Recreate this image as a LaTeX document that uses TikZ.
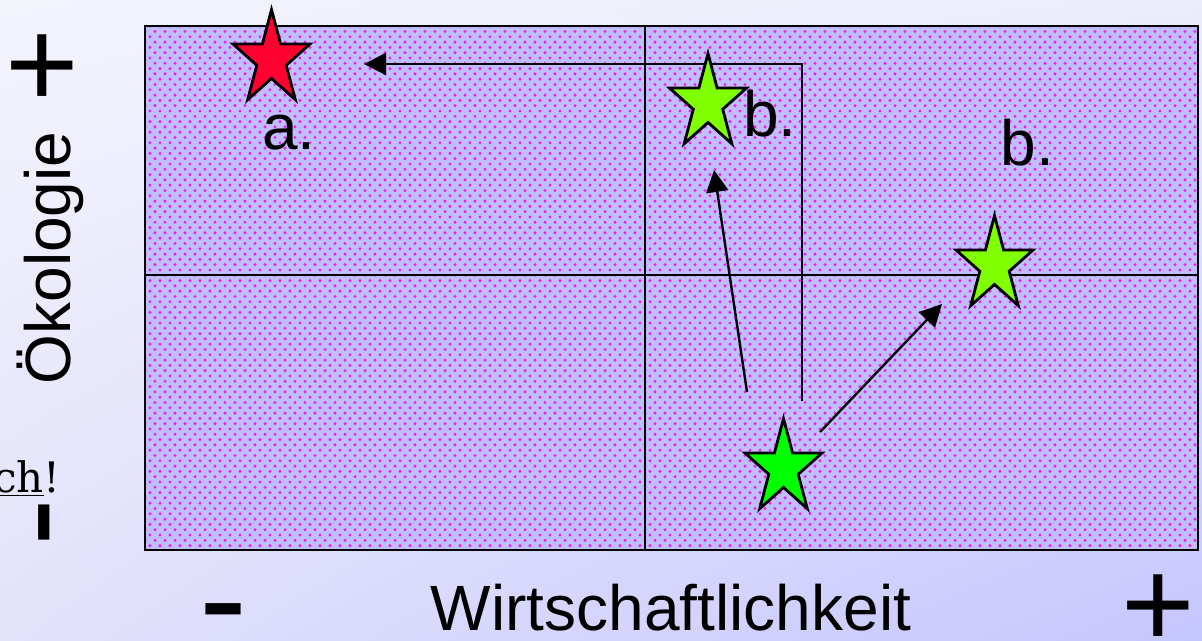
\documentclass[tikz,border=0pt]{standalone}
\usepackage{fontspec}
\setmainfont{Liberation Sans}
\newfontfamily\serifchfont{DejaVu Serif}
\usetikzlibrary{shapes.geometric,arrows.meta,patterns,shadings}

\pgfdeclarepatternformonly{mydots}{\pgfqpoint{-1.5pt}{-1.5pt}}{\pgfqpoint{4pt}{4pt}}{\pgfqpoint{5pt}{5.3pt}}{%
  \pgfpathcircle{\pgfqpoint{0pt}{0pt}}{0.85pt}%
  \pgfpathcircle{\pgfqpoint{2.5pt}{2.65pt}}{0.85pt}%
  \pgfusepath{fill}%
}

\definecolor{bgA}{HTML}{F4F4FD}
\definecolor{bgB}{HTML}{ECECFC}
\definecolor{bgC}{HTML}{E2E2FB}
\definecolor{bgD}{HTML}{C6C6FF}
\definecolor{fieldbg}{HTML}{BFBFFF}
\definecolor{dotcol}{HTML}{EE22EE}
\definecolor{starred}{HTML}{FF0030}
\definecolor{starlime}{HTML}{80FF00}
\definecolor{stargreen}{HTML}{00FF00}

\tikzset{
  mystar/.style={star, star points=5, star point ratio=2.618, minimum size=40.5pt,
    inner sep=0pt, draw=black, line width=1.4pt, yscale=1.23},
  axislabel/.style={font=\fontsize{32}{32}\selectfont, inner sep=0pt},
  lbl/.style={font=\fontsize{32}{32}\selectfont, inner sep=0pt},
  plussign/.style={font=\fontsize{63}{63}\selectfont, inner sep=0pt},
  minussign/.style={font=\fontsize{72}{72}\selectfont, inner sep=0pt},
  grid line/.style={line width=1pt, draw=black},
  arr/.style={line width=1.2pt, draw=black, -{Triangle[length=11pt,width=11pt]}},
}

\begin{document}
\begin{tikzpicture}[x=0.5pt,y=-0.5pt]
\useasboundingbox (0,0) rectangle (1202,641);
\shade[upper left=bgA, upper right=bgB, lower left=bgC, lower right=bgD] (0,0) rectangle (1202,641);

% field
\fill[fieldbg] (145,26) rectangle (1198,550);
\fill[pattern=mydots, pattern color=dotcol] (145,26) rectangle (1198,550);
\draw[grid line] (645,26) -- (645,550);
\draw[grid line] (145,275) -- (1198,275);
\draw[grid line] (145,26) rectangle (1198,550);

% arrow coordinates
\coordinate (a1s) at (802,401);
\coordinate (a1c) at (802,64);
\coordinate (a1e) at (364,64);
\coordinate (a2s) at (747,392);
\coordinate (a2e) at (714,170);
\coordinate (a3s) at (820,432);
\coordinate (a3e) at (942,304);

\draw[arr] (a1s) -- (a1c) -- (a1e);
\draw[arr] (a2s) -- (a2e);
\draw[arr] (a3s) -- (a3e);

% stars
\node[mystar, fill=starred] (sa) at (271.5,59.4) {};
\node[mystar, fill=starlime] (sb1) at (708,103.4) {};
\node[mystar, fill=starlime] (sb2) at (994.5,265.4) {};
\node[mystar, fill=stargreen] (sc) at (783.5,468.4) {};

% labels
\node[lbl, anchor=base west] (la) at (262,150) {a.};
\node[lbl, anchor=base west] (lb1) at (743,137) {b.};
\node[lbl, anchor=base west] (lb2) at (1000,166) {b.};

% axes texts
\node[axislabel, anchor=base] (xlab) at (671,630) {Wirtschaftlichkeit};
\node[axislabel, rotate=90, anchor=base] (ylab) at (70,258) {Ökologie};
\node[plussign] (yplus) at (42,71) {+};
\node[plussign] (xplus) at (1158.5,611.5) {+};
\node[minussign] (xminus) at (223.5,609) {\raisebox{-0.225em}[0.09em][0pt]{-}};
\node[minussign, rotate=90] (yminus) at (44,522.5) {\raisebox{-0.225em}[0.09em][0pt]{-}};
\node[font=\serifchfont\fontsize{21}{21}\selectfont, inner sep=0pt, anchor=base east] (chtext) at (61,492) {\underline{ch}!};
\end{tikzpicture}
\end{document}
